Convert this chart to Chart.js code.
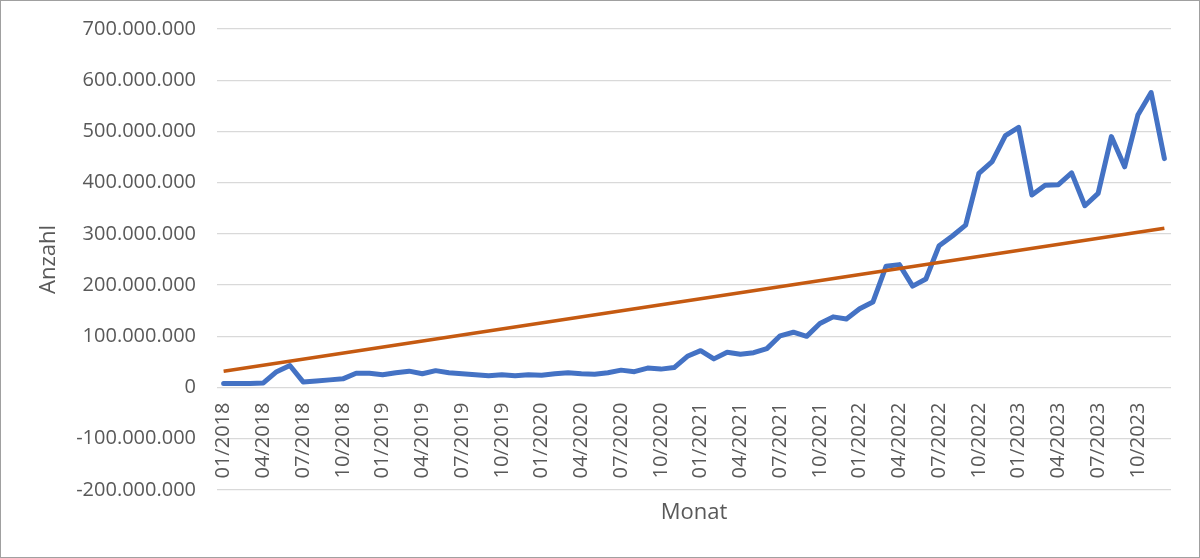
<!DOCTYPE html>
<html lang="de">
<head>
<meta charset="utf-8">
<title>Anzahl pro Monat</title>
<script src="https://cdn.jsdelivr.net/npm/chart.js@4/dist/chart.umd.min.js"></script>
<style>
  html, body { margin: 0; padding: 0; background: #fff; }
  #frame {
    width: 1200px; height: 558px;
    box-sizing: border-box;
    border: 1px solid #a0a0a0;
    background: #fff;
  }
  #chart { display: block; }
</style>
</head>
<body>
<div id="frame"><canvas id="chart" width="1198" height="556"></canvas></div>
<script>
// Monate 01/2018 .. 12/2023
const months = [
  '01/2018','02/2018','03/2018','04/2018','05/2018','06/2018','07/2018','08/2018','09/2018','10/2018','11/2018','12/2018',
  '01/2019','02/2019','03/2019','04/2019','05/2019','06/2019','07/2019','08/2019','09/2019','10/2019','11/2019','12/2019',
  '01/2020','02/2020','03/2020','04/2020','05/2020','06/2020','07/2020','08/2020','09/2020','10/2020','11/2020','12/2020',
  '01/2021','02/2021','03/2021','04/2021','05/2021','06/2021','07/2021','08/2021','09/2021','10/2021','11/2021','12/2021',
  '01/2022','02/2022','03/2022','04/2022','05/2022','06/2022','07/2022','08/2022','09/2022','10/2022','11/2022','12/2022',
  '01/2023','02/2023','03/2023','04/2023','05/2023','06/2023','07/2023','08/2023','09/2023','10/2023','11/2023','12/2023'
];

// Anzahl in Millionen
const anzahlMio = [
  8, 8, 8, 9, 31, 43, 11, 13, 15, 17, 28, 28,
  25, 29, 32, 27, 33, 29, 27, 25, 23, 25, 23, 25,
  24, 27, 29, 27, 26, 29, 34, 31, 38, 36, 39, 61,
  72, 56, 69, 65, 68, 76, 101, 108, 100, 125, 138, 134,
  154, 167, 237, 240, 198, 212, 277, 296, 317, 418, 441, 492,
  508, 376, 395, 396, 419, 355, 379, 490, 431, 532, 576, 447
];

// linearer Trend: Start- und Endwert (Mio.)
const trendMio = [31.7, 311];

const yTicks = { min: -200, max: 700, step: 100 }; // Mio.

const MIO = 1e6;
const textColor = '#595959';
const gridColor = '#d9d9d9';
const fontFamily = '"Open Sans", "Noto Sans", sans-serif';

function formatDe(v) {
  return String(Math.round(v)).replace(/\B(?=(\d{3})+(?!\d))/g, '.');
}

new Chart(document.getElementById('chart'), {
  type: 'line',
  data: {
    labels: months,
    datasets: [
      {
        label: 'Linear (Anzahl)',
        data: [
          { x: months[0], y: trendMio[0] * MIO },
          { x: months[months.length - 1], y: trendMio[1] * MIO }
        ],
        borderColor: '#C55A11',
        borderWidth: 3.5,
        pointRadius: 0,
        tension: 0,
        order: 0
      },
      {
        label: 'Anzahl',
        data: anzahlMio.map(v => v * MIO),
        borderColor: '#4472C4',
        borderWidth: 5,
        borderJoinStyle: 'round',
        borderCapStyle: 'round',
        pointRadius: 0,
        tension: 0,
        order: 1
      }
    ]
  },
  options: {
    responsive: false,
    animation: false,
    layout: { padding: { top: 28, right: 28, bottom: 67, left: 0 } },
    plugins: {
      legend: { display: false },
      tooltip: { enabled: false }
    },
    scales: {
      x: {
        type: 'category',
        position: { y: 0 },
        offset: true,
        grid: { display: false, drawTicks: false },
        border: { display: false },
        ticks: {
          autoSkip: false,
          minRotation: 90,
          maxRotation: 90,
          padding: 15,
          color: textColor,
          font: { family: fontFamily, size: 20 },
          callback: function (val, idx) {
            return idx % 3 === 0 ? this.getLabelForValue(val) : '';
          }
        },
        title: {
          display: true,
          text: 'Monat',
          color: textColor,
          font: { family: fontFamily, size: 22 },
          padding: { top: 0, bottom: 0 }
        },
        afterFit: s => {
          s.height = 138;
          s.paddingLeft = 0;
          s.paddingRight = 0;
        }
      },
      y: {
        min: yTicks.min * MIO,
        max: yTicks.max * MIO,
        grid: { color: gridColor, lineWidth: 1.3, drawTicks: false },
        border: { display: false },
        ticks: {
          stepSize: yTicks.step * MIO,
          padding: 21,
          color: textColor,
          font: { family: fontFamily, size: 20 },
          callback: v => formatDe(v)
        },
        title: {
          display: true,
          text: 'Anzahl',
          color: textColor,
          font: { family: fontFamily, size: 22 },
          padding: { top: 35, bottom: 0 }
        },
        afterFit: s => {
          s.width = 216;
          s.paddingTop = 0;
          s.paddingBottom = 0;
        }
      }
    }
  }
});
</script>
</body>
</html>
